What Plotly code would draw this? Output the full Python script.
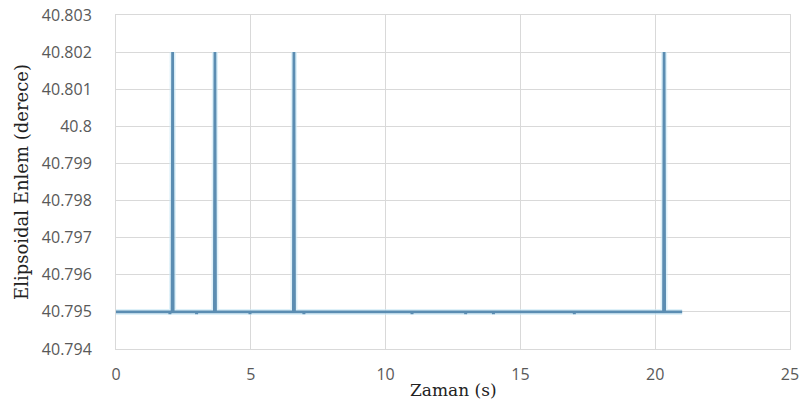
import plotly.graph_objects as go

# Time (s) vertices of the latitude trace
time_s = [0.0, 1.98, 2.0, 2.02, 2.08, 2.10, 2.12, 2.97, 2.99, 3.01, 3.65, 3.67, 3.69,
          4.95, 4.97, 4.99, 6.58, 6.60, 6.62, 6.95, 6.97, 6.99, 10.96, 10.98, 11.00,
          12.95, 12.97, 12.99, 13.98, 14.00, 14.02, 16.98, 17.00, 17.02,
          20.31, 20.33, 20.35, 21.0]
# Ellipsoidal latitude (degrees)
latitude = [40.795, 40.795, 40.79495, 40.795, 40.795, 40.802, 40.795, 40.795, 40.79495, 40.795,
            40.795, 40.802, 40.795, 40.795, 40.79495, 40.795, 40.795, 40.802, 40.795,
            40.795, 40.79495, 40.795, 40.795, 40.79495, 40.795, 40.795, 40.79495, 40.795,
            40.795, 40.79495, 40.795, 40.795, 40.79495, 40.795, 40.795, 40.802, 40.795, 40.795]

y_ticks = [40.794, 40.795, 40.796, 40.797, 40.798, 40.799, 40.8, 40.801, 40.802, 40.803]
y_tick_text = ["40.794", "40.795", "40.796", "40.797", "40.798", "40.799", "40.8",
               "40.801", "40.802", "40.803"]
x_ticks = [0, 5, 10, 15, 20, 25]

fig = go.Figure()
fig.add_trace(go.Scatter(x=time_s, y=latitude, mode="lines",
                         line=dict(color="rgba(200,232,245,0.6)", width=6),
                         hoverinfo="skip", showlegend=False))
fig.add_trace(go.Scatter(x=time_s, y=latitude, mode="lines",
                         line=dict(color="#5b8db2", width=2.8),
                         showlegend=False))

grid = "#d9d9d9"
tick_font = dict(family="Open Sans", size=16, color="#595959")

fig.update_layout(
    width=805, height=412,
    margin=dict(l=116, r=15, t=15, b=63),
    paper_bgcolor="white", plot_bgcolor="white",
    xaxis=dict(range=[0, 25], tickvals=x_ticks, showgrid=True, gridcolor=grid, gridwidth=1,
               zeroline=False, showline=True, linecolor=grid, mirror=True, automargin=False,
               ticks="", tickfont=tick_font, ticklabelstandoff=11),
    yaxis=dict(range=[40.794, 40.803], tickvals=y_ticks, ticktext=y_tick_text,
               showgrid=True, gridcolor=grid, gridwidth=1,
               zeroline=False, showline=True, linecolor=grid, mirror=True, automargin=False,
               ticks="", tickfont=tick_font, ticklabelstandoff=20,
               title=dict(text="Elipsoidal Enlem (derece)",
                          font=dict(family="DejaVu Serif", size=18, color="#222222"),
                          standoff=8)),
    annotations=[dict(text="Zaman (s)", xref="paper", yref="paper", x=0.5, y=-0.123,
                      xanchor="center", yanchor="middle", showarrow=False,
                      font=dict(family="DejaVu Serif", size=17, color="#222222"))],
)

fig.write_html("out.html")
